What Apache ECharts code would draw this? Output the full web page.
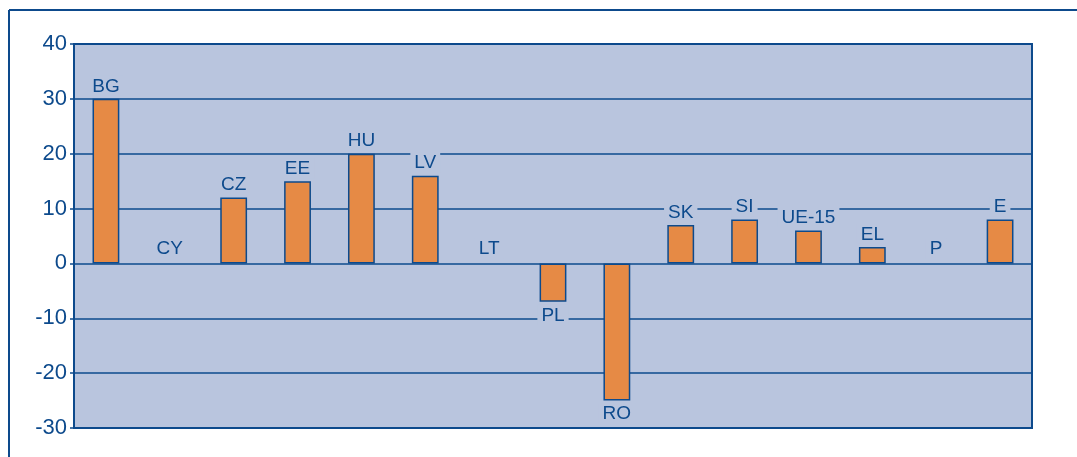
<!DOCTYPE html>
<html>
<head>
<meta charset="utf-8">
<script src="https://cdn.jsdelivr.net/npm/echarts@6/dist/echarts.min.js"></script>
<style>
  html, body { margin: 0; padding: 0; background: #fff; }
  #chart { width: 1077px; height: 457px; }
</style>
</head>
<body>
<div id="chart"></div>
<script>
const categories = ['BG', 'CY', 'CZ', 'EE', 'HU', 'LV', 'LT', 'PL', 'RO', 'SK', 'SI', 'UE-15', 'EL', 'P', 'E'];
const values = [30, 0, 12, 15, 20, 16, 0, -7, -25, 7, 8, 6, 3, 0, 8];
const yTicks = [-30, 40, 10];

const navy = '#0d4a8c';
const plotBg = '#b9c5de';
const barColor = '#e68a45';
const font = '"Liberation Sans", Arial, sans-serif';

let chart = echarts.init(document.getElementById('chart'));

let option = {
  animation: false,
  grid: {
    left: 74, top: 44, right: 45, bottom: 29,
    show: true,
    backgroundColor: plotBg,
    borderColor: navy,
    borderWidth: 2
  },
  graphic: [
    { type: 'line', shape: { x1: 9, y1: 10, x2: 1077, y2: 10 }, style: { stroke: navy, lineWidth: 2 } },
    { type: 'line', shape: { x1: 9, y1: 10, x2: 9, y2: 457 }, style: { stroke: navy, lineWidth: 2 } }
  ],
  xAxis: {
    type: 'category',
    data: categories,
    axisLine: { onZero: false, lineStyle: { color: navy, width: 2 } },
    axisTick: { show: false },
    axisLabel: { show: false },
    splitLine: { show: false }
  },
  yAxis: {
    type: 'value',
    min: yTicks[0],
    max: yTicks[1],
    interval: yTicks[2],
    axisLine: { show: true, lineStyle: { color: navy, width: 2 } },
    axisTick: { show: true, length: 4, lineStyle: { color: navy, width: 1.5 } },
    axisLabel: { color: navy, fontSize: 22, fontFamily: font, margin: 7 },
    splitLine: { show: true, lineStyle: { color: navy, width: 1.5 } }
  },
  series: [{
    type: 'bar',
    data: values.map(v => ({
      value: v,
      itemStyle: v === 0 ? { borderWidth: 0 } : {},
      label: { position: v < 0 ? 'bottom' : 'top', distance: v === 0 ? 5 : 3 }
    })),
    barWidth: '42%',
    itemStyle: { color: barColor, borderColor: navy, borderWidth: 1.5 },
    label: {
      show: true,
      formatter: p => categories[p.dataIndex],
      color: navy,
      fontSize: 19,
      fontFamily: font,
      backgroundColor: plotBg,
      padding: [1, 4, 0, 4]
    }
  }]
};
chart.setOption(option);
</script>
</body>
</html>
